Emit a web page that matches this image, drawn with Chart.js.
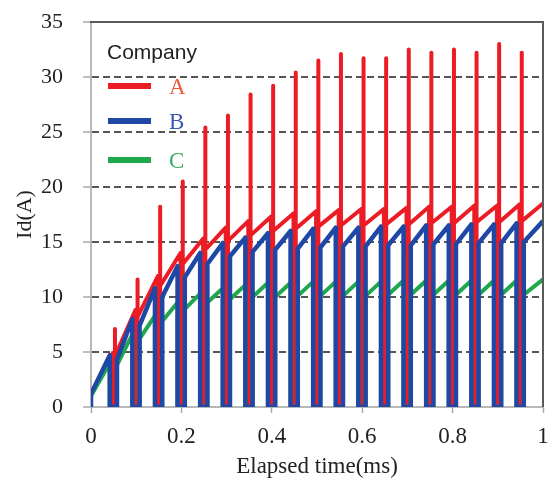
<!DOCTYPE html>
<html>
<head>
<meta charset="utf-8">
<script src="https://cdn.jsdelivr.net/npm/chart.js@4.4.0/dist/chart.umd.min.js"></script>
<style>
  html, body { margin: 0; padding: 0; background: #fff; }
</style>
</head>
<body>
<canvas id="chart" width="552" height="485"></canvas>
<script>
// switching instants (ms) and the tick labels
const switchTimes = [0.05, 0.10, 0.15, 0.20, 0.25, 0.30, 0.35, 0.40, 0.45, 0.50,
                     0.55, 0.60, 0.65, 0.70, 0.75, 0.80, 0.85, 0.90, 0.95];
const xTicks = [0, 0.2, 0.4, 0.6, 0.8, 1];
const xTickLabels = ['0', '0.2', '0.4', '0.6', '0.8', '1'];
const yTicks = [0, 5, 10, 15, 20, 25, 30, 35];
const yTickLabels = ['0', '5', '10', '15', '20', '25', '30', '35'];
const companies = ['A', 'B', 'C'];

// Company A (red): current at start / end of each on-period, turn-on spikes
const aStart = [1.2, 4.6, 8.2, 11.0, 13.0, 14.3, 15.1, 15.6, 16.0, 16.2,
                16.4, 16.5, 16.5, 16.6, 16.6, 16.7, 16.7, 16.8, 16.8, 16.9];
const aEnd   = [4.9, 8.8, 11.9, 14.0, 15.3, 16.3, 16.9, 17.3, 17.6, 17.8,
                17.9, 18.0, 18.0, 18.1, 18.2, 18.2, 18.3, 18.3, 18.4, 18.5];
const aSpike = [7.1, 11.6, 18.2, 20.5, 25.4, 26.5, 28.4, 29.2, 30.4, 31.5,
                32.1, 31.7, 31.7, 32.5, 32.2, 32.5, 32.2, 33.0, 32.2];

// Company B (blue)
const bStart = [1.2, 4.3, 7.4, 10.0, 11.8, 13.0, 13.7, 14.1, 14.3, 14.4,
                14.5, 14.6, 14.6, 14.7, 14.7, 14.8, 14.8, 14.9, 14.9, 15.0];
const bEnd   = [4.7, 8.0, 10.8, 12.8, 14.0, 14.9, 15.4, 15.8, 16.0, 16.2,
                16.3, 16.3, 16.4, 16.4, 16.5, 16.5, 16.6, 16.6, 16.7, 16.9];

// Company C (green)
const cStart = [1.0, 3.8, 6.2, 7.8, 8.9, 9.5, 9.8, 10.0, 10.0, 10.1,
                10.1, 10.1, 10.1, 10.2, 10.2, 10.2, 10.2, 10.2, 10.2, 10.2];
const cEnd   = [4.0, 6.6, 8.3, 9.5, 10.3, 10.8, 11.1, 11.3, 11.3, 11.4,
                11.4, 11.4, 11.4, 11.5, 11.5, 11.5, 11.5, 11.5, 11.5, 11.6];

// off-time around each switching instant (ms before / after)
const offBefore = 0.0085, onAfter = 0.0075;
const offBeforeA = 0.002, onAfterA = 0.003;

const colors = { A: '#ec1c24', B: '#1f47a6', C: '#1ea84b' };
const textColors = { A: '#f0583a', B: '#3a58b4', C: '#3aaa5c' };
const SERIF = '"Liberation Serif", "Times New Roman", serif';
const SANS = '"Liberation Sans", Arial, sans-serif';

function buildSeries(starts, ends, before, after, spikes) {
  const pts = [{ x: 0, y: 0 }, { x: 0, y: starts[0] }];
  switchTimes.forEach((s, i) => {
    const tOff = s - before, tOn = s + after;
    pts.push({ x: tOff, y: ends[i] }, { x: tOff, y: 0 }, { x: tOn, y: 0 });
    if (spikes) pts.push({ x: tOn, y: spikes[i] });
    pts.push({ x: tOn, y: starts[i + 1] });
  });
  pts.push({ x: 1, y: ends[ends.length - 1] });
  return pts;
}

const frameAndLegend = {
  id: 'frameAndLegend',
  afterDraw(chart) {
    const { ctx, chartArea: a } = chart;
    ctx.save();
    ctx.strokeStyle = '#5a5a5a';
    ctx.lineWidth = 2;
    ctx.beginPath();
    ctx.moveTo(a.left - 1, a.top);
    ctx.lineTo(a.right, a.top);
    ctx.lineTo(a.right, a.bottom);
    ctx.stroke();

    ctx.fillStyle = '#222';
    ctx.font = '21px ' + SANS;
    ctx.textBaseline = 'middle';
    ctx.fillText('Company', 107, 53);

    const rows = [86, 121, 160];
    companies.forEach((name, i) => {
      const y = rows[i];
      ctx.strokeStyle = colors[name];
      ctx.lineWidth = 6;
      ctx.beginPath();
      ctx.moveTo(108, y);
      ctx.lineTo(151, y);
      ctx.stroke();
      ctx.fillStyle = textColors[name];
      ctx.font = '23px ' + SERIF;
      ctx.fillText(name, 169, y + 2);
    });
    ctx.restore();
  }
};

new Chart(document.getElementById('chart'), {
  type: 'line',
  data: {
    datasets: [
      {
        label: 'B',
        data: buildSeries(bStart, bEnd, offBefore, onAfter),
        borderColor: colors.B,
        borderWidth: 4.5,
        order: 0
      },
      {
        label: 'C',
        data: buildSeries(cStart, cEnd, offBefore, onAfter),
        borderColor: colors.C,
        borderWidth: 4,
        order: 1
      },
      {
        label: 'A',
        data: buildSeries(aStart, aEnd, offBeforeA, onAfterA, aSpike),
        borderColor: colors.A,
        borderWidth: 4,
        order: 2
      }
    ]
  },
  options: {
    responsive: false,
    animation: false,
    devicePixelRatio: 1,
    parsing: false,
    layout: { padding: { top: 22, right: 9, left: 0, bottom: 0 } },
    elements: {
      point: { radius: 0 },
      line: { tension: 0, borderJoinStyle: 'round', borderCapStyle: 'butt', fill: false }
    },
    plugins: {
      legend: { display: false },
      tooltip: { enabled: false }
    },
    scales: {
      x: {
        type: 'linear',
        min: 0,
        max: 1,
        afterBuildTicks: scale => { scale.ticks = xTicks.map(v => ({ value: v })); },
        afterFit: scale => {
          scale.height = 78;
          scale.paddingLeft = 0;
          scale.paddingRight = 0;
        },
        ticks: {
          callback: (v, i) => xTickLabels[i],
          font: { family: SERIF, size: 23 },
          color: '#222',
          padding: 10,
          maxRotation: 0
        },
        grid: {
          drawOnChartArea: false,
          drawTicks: true,
          tickLength: 6,
          tickColor: '#a8a8a8',
          tickWidth: 1.5
        },
        border: { color: '#b8b8b8', width: 2 },
        title: {
          display: true,
          text: 'Elapsed time(ms)',
          font: { family: SERIF, size: 23 },
          color: '#222',
          padding: { top: 0, bottom: 4 }
        }
      },
      y: {
        type: 'linear',
        min: 0,
        max: 35,
        afterBuildTicks: scale => { scale.ticks = yTicks.map(v => ({ value: v })); },
        afterFit: scale => {
          scale.width = 91;
          scale.paddingTop = 0;
          scale.paddingBottom = 0;
        },
        ticks: {
          callback: (v, i) => yTickLabels[i],
          font: { family: SERIF, size: 22 },
          color: '#222',
          padding: 20
        },
        grid: {
          color: c => (c.tick && (c.tick.value === 0 || c.tick.value === 35)) ? 'rgba(0,0,0,0)' : '#555',
          lineWidth: 2,
          tickLength: 8,
          tickColor: '#a8a8a8',
          tickWidth: 1.5
        },
        border: { color: '#b8b8b8', width: 2, dash: [7, 4] },
        title: {
          display: true,
          text: 'Id(A)',
          font: { family: SERIF, size: 22 },
          color: '#222',
          padding: { top: 12, bottom: 3 }
        }
      }
    }
  },
  plugins: [frameAndLegend]
});
</script>
</body>
</html>
